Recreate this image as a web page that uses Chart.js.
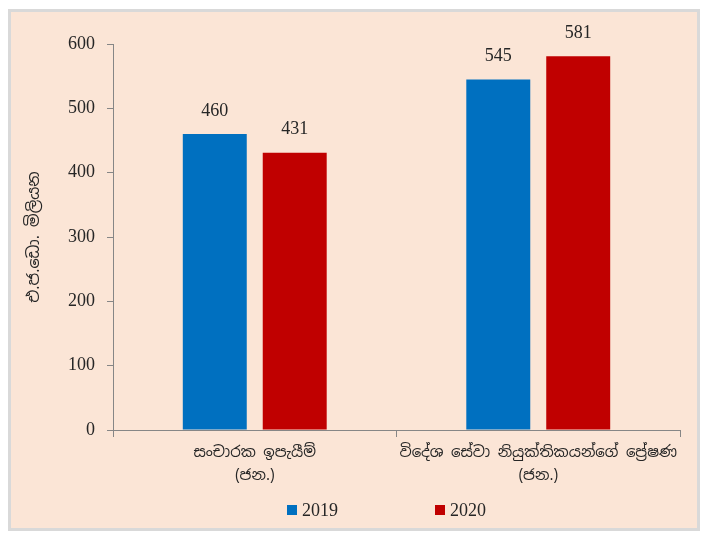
<!DOCTYPE html>
<html>
<head>
<meta charset="utf-8">
<script src="https://cdn.jsdelivr.net/npm/chart.js@4.4.1/dist/chart.umd.min.js"></script>
<style>
  html, body { margin: 0; padding: 0; background: #ffffff; width: 703px; height: 534px; overflow: hidden; }
  #frame { position: absolute; left: 8px; top: 9px; width: 686px; height: 516px; border: 3px solid #d9d9d9; background: #FBE5D6; overflow: hidden; }
  #c { display: block; }
</style>
</head>
<body>
<div id="frame"><canvas id="c" width="686" height="516"></canvas></div>
<script>
// ---- data ----
const categories = [
  ["සංචාරක ඉපැයීම්", "(ජන.)"],
  ["විදේශ සේවා නියුක්තිකයන්ගේ ප්‍රේෂණ", "(ජන.)"]
];
const seriesNames = ["2019", "2020"];
const values2019 = [460, 545];
const values2020 = [431, 581];
const yTicks = [0, 100, 200, 300, 400, 500, 600];
const yAxisTitle = "එ.ජ.ඩො. මිලියන";

const SERIF = "'Liberation Serif', 'DejaVu Serif', serif";
const SINHALA = "'Noto Sans Sinhala', 'Noto Serif Sinhala', 'Iskoola Pota', 'Noto Sans', sans-serif";
const AXIS = '#868686';
const TEXT = '#262626';

const valueLabels = {
  id: 'valueLabels',
  afterDatasetsDraw(chart) {
    const ctx = chart.ctx;
    ctx.save();
    ctx.font = '18px ' + SERIF;
    ctx.fillStyle = TEXT;
    ctx.textAlign = 'center';
    ctx.textBaseline = 'middle';
    chart.data.datasets.forEach((ds, i) => {
      chart.getDatasetMeta(i).data.forEach((bar, j) => {
        ctx.fillText(String(ds.data[j]), bar.x, bar.y - 23);
      });
    });
    ctx.restore();
  }
};

const customLegend = {
  id: 'customLegend',
  afterDraw(chart) {
    const ctx = chart.ctx;
    ctx.save();
    ctx.font = '18px ' + SERIF;
    ctx.textBaseline = 'middle';
    ctx.textAlign = 'left';
    const y = 498, startX = 276, step = 148, box = 10;
    chart.data.datasets.forEach((ds, i) => {
      const x = startX + i * step;
      ctx.fillStyle = ds.backgroundColor;
      ctx.fillRect(x, y - box / 2, box, box);
      ctx.fillStyle = TEXT;
      ctx.fillText(ds.label, x + box + 5, y + 1);
    });
    ctx.restore();
  }
};

new Chart(document.getElementById('c'), {
  type: 'bar',
  data: {
    labels: categories,
    datasets: [
      { label: seriesNames[0], data: values2019, backgroundColor: '#0070C0', categoryPercentage: 0.564, barPercentage: 0.8 },
      { label: seriesNames[1], data: values2020, backgroundColor: '#C00000', categoryPercentage: 0.564, barPercentage: 0.8 }
    ]
  },
  options: {
    responsive: false,
    animation: false,
    devicePixelRatio: 1,
    layout: { padding: { left: 0, right: 17, top: 32, bottom: 0 } },
    plugins: {
      legend: { display: false },
      tooltip: { enabled: false }
    },
    scales: {
      x: {
        offset: true,
        grid: { display: true, offset: true, drawOnChartArea: false, drawTicks: true, tickLength: 7, color: AXIS, lineWidth: 1 },
        border: { display: true, color: AXIS, width: 1 },
        ticks: { color: TEXT, font: { family: SINHALA, size: 15, lineHeight: 1.55 }, padding: 4, maxRotation: 0, autoSkip: false },
        afterFit(scale) { scale.height = 98; }
      },
      y: {
        min: 0, max: 600,
        afterBuildTicks(scale) { scale.ticks = yTicks.map(v => ({ value: v })); },
        grid: { display: true, drawOnChartArea: false, drawTicks: true, tickLength: 6, color: AXIS, lineWidth: 1 },
        border: { display: true, color: AXIS, width: 1 },
        ticks: { color: TEXT, font: { family: SERIF, size: 18 }, padding: 12 },
        title: { display: true, text: yAxisTitle, color: TEXT, font: { family: SINHALA, size: 16 }, padding: { top: 14, bottom: 0 } },
        afterFit(scale) { scale.width = 102; }
      }
    }
  },
  plugins: [valueLabels, customLegend]
});
</script>
</body>
</html>
